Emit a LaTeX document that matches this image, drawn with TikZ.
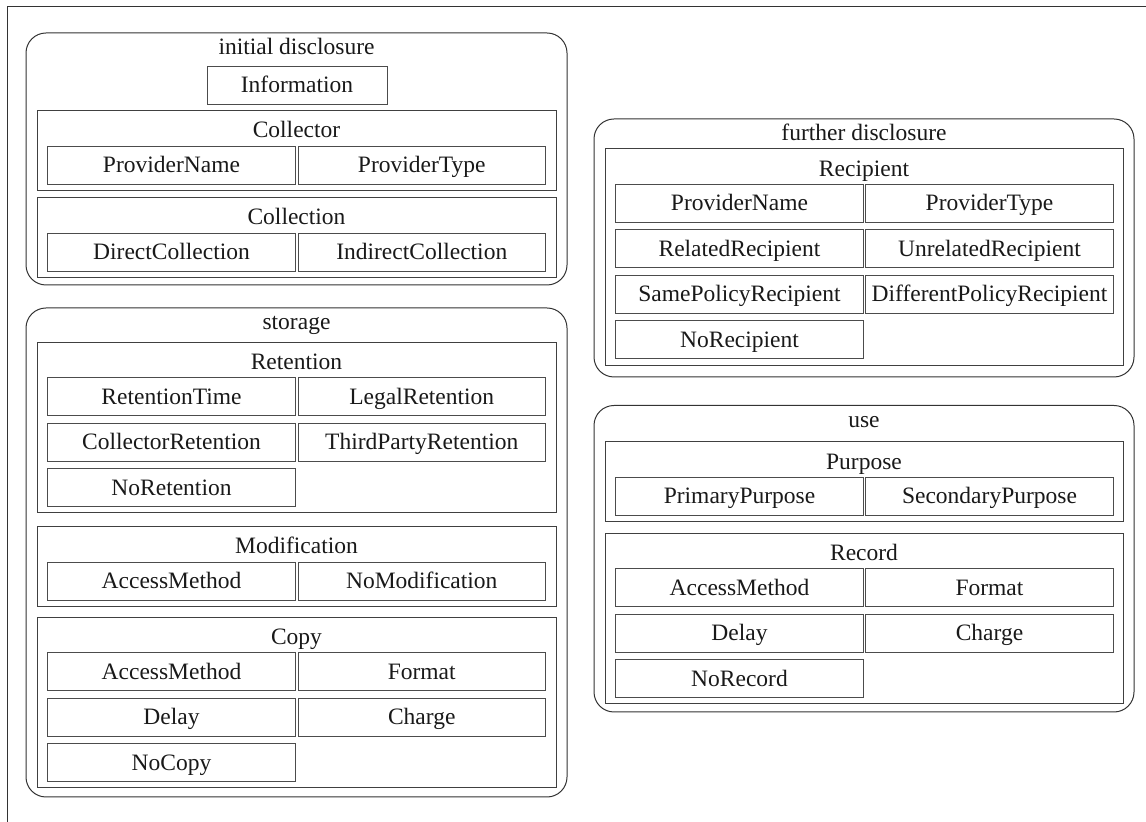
\documentclass[tikz,border=0pt]{standalone}
\usepackage{fontspec}
\setmainfont{Liberation Serif}
\usetikzlibrary{fit}
\newcommand\diafont{\fontsize{11.75pt}{14pt}\selectfont}
\begin{document}
\begin{tikzpicture}[x=0.5pt,y=-0.5pt,
  panel/.style={draw=black!80, line width=0.5pt, rounded corners=10pt, inner sep=0pt},
  section/.style={draw=black!75, line width=0.45pt, inner sep=0pt},
  cell/.style={draw=black!70, line width=0.45pt, inner sep=0pt, minimum width=123.6pt,
    minimum height=19pt, text height=8.5pt, text depth=0.5pt, font=\diafont, text=black!90},
  ttl/.style={anchor=base, inner sep=0pt, font=\diafont, text=black!90},
  frame/.style={draw=black!80, line width=0.5pt}]
\useasboundingbox (0,0) rectangle (1146,822);
% outer frame
\coordinate (fTL) at (7,7);
\coordinate (fTR) at (1146,7);
\coordinate (fBL) at (7,822);
\draw[frame] (fTR) -- (fTL) -- (fBL);

% ---------- initial disclosure ----------
\node[panel, fit={(26,33)(567,285)}] (pInit) {};
\node[ttl] (tInit) at (296.5,55) {initial disclosure};
\node[cell, minimum width=90pt] (cInfo) at (297,85) {Information};
\node[section, fit={(37,110)(556,190)}] (sCollector) {};
\node[ttl] (tCollector) at (296.5,138) {Collector};
\node[cell] (cColPN) at (171.5,165) {ProviderName};
\node[cell] (cColPT) at (421.75,165) {ProviderType};
\node[section, fit={(37,197.5)(556,277)}] (sCollection) {};
\node[ttl] (tCollection) at (296.5,225) {Collection};
\node[cell] (cDirect) at (171.5,252) {DirectCollection};
\node[cell] (cIndirect) at (421.75,252) {IndirectCollection};

% ---------- storage ----------
\node[panel, fit={(26,308)(567,797)}] (pStorage) {};
\node[ttl] (tStorage) at (296.5,330) {storage};
\node[section, fit={(37,342)(556,512.5)}] (sRetention) {};
\node[ttl] (tRetention) at (296.5,370) {Retention};
\node[cell] (cRetTime) at (171.5,396.5) {RetentionTime};
\node[cell] (cLegal) at (421.75,396.5) {LegalRetention};
\node[cell] (cCollRet) at (171.5,442) {CollectorRetention};
\node[cell] (cThird) at (421.75,442) {ThirdPartyRetention};
\node[cell] (cNoRet) at (171.5,487.5) {NoRetention};
\node[section, fit={(37,526)(556,606)}] (sModification) {};
\node[ttl] (tModification) at (296.5,554) {Modification};
\node[cell] (cModAccess) at (171.5,581) {AccessMethod};
\node[cell] (cNoMod) at (421.75,581) {NoModification};
\node[section, fit={(37,617)(556,787.5)}] (sCopy) {};
\node[ttl] (tCopy) at (296.5,645) {Copy};
\node[cell] (cCopyAccess) at (171.5,671.5) {AccessMethod};
\node[cell] (cCopyFormat) at (421.75,671.5) {Format};
\node[cell] (cCopyDelay) at (171.5,717) {Delay};
\node[cell] (cCopyCharge) at (421.75,717) {Charge};
\node[cell] (cNoCopy) at (171.5,762.5) {NoCopy};

% ---------- further disclosure ----------
\node[panel, fit={(594,119)(1134,377)}] (pFurther) {};
\node[ttl] (tFurther) at (864,141) {further disclosure};
\node[section, fit={(605,148.5)(1123,365)}] (sRecipient) {};
\node[ttl] (tRecipient) at (864,176.5) {Recipient};
\node[cell] (cRecPN) at (739.5,203) {ProviderName};
\node[cell] (cRecPT) at (989.5,203) {ProviderType};
\node[cell] (cRelated) at (739.5,248.5) {RelatedRecipient};
\node[cell] (cUnrelated) at (989.5,248.5) {UnrelatedRecipient};
\node[cell] (cSame) at (739.5,294) {SamePolicyRecipient};
\node[cell] (cDiff) at (989.5,294) {DifferentPolicyRecipient};
\node[cell] (cNoRec) at (739.5,339.5) {NoRecipient};

% ---------- use ----------
\node[panel, fit={(594,405.5)(1134,712)}] (pUse) {};
\node[ttl] (tUse) at (864,427.5) {use};
\node[section, fit={(605,441.5)(1123,521)}] (sPurpose) {};
\node[ttl] (tPurpose) at (864,469.5) {Purpose};
\node[cell] (cPrimary) at (739.5,496) {PrimaryPurpose};
\node[cell] (cSecondary) at (989.5,496) {SecondaryPurpose};
\node[section, fit={(605,533)(1123,703.5)}] (sRecord) {};
\node[ttl] (tRecord) at (864,561) {Record};
\node[cell] (cRecAccess) at (739.5,587.5) {AccessMethod};
\node[cell] (cRecFormat) at (989.5,587.5) {Format};
\node[cell] (cRecDelay) at (739.5,633) {Delay};
\node[cell] (cRecCharge) at (989.5,633) {Charge};
\node[cell] (cNoRecord) at (739.5,678.5) {NoRecord};
\end{tikzpicture}
\end{document}
